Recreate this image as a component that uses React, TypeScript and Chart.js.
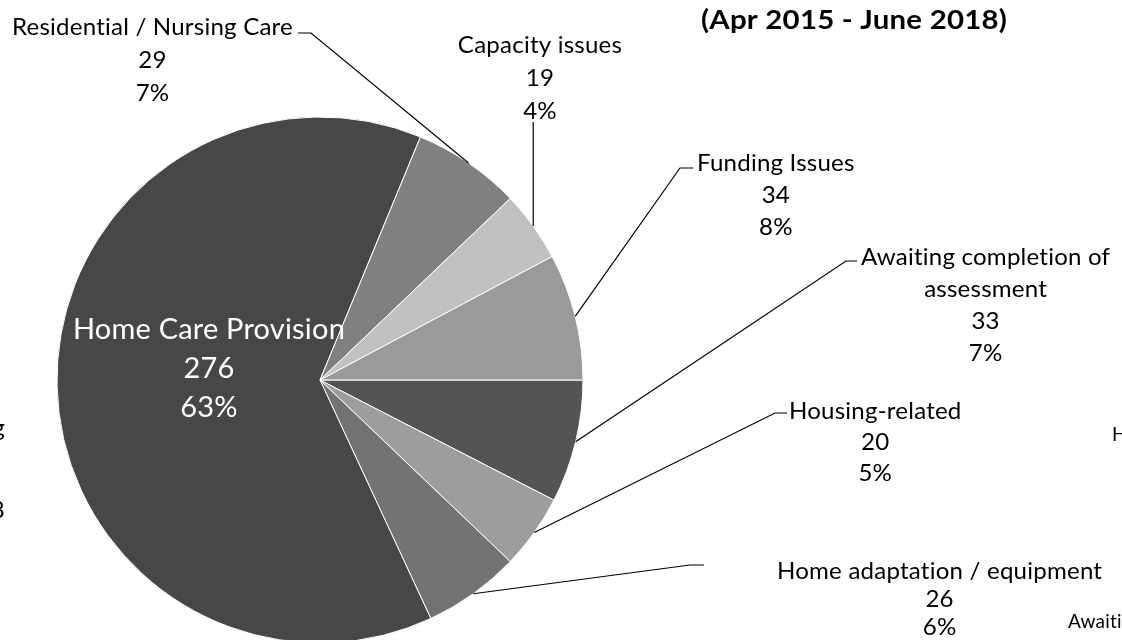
import React, { useEffect, useRef } from 'react';
import { Chart, registerables } from 'chart.js';

Chart.register(...registerables);

// ---- data ----
const categories = [
  'Awaiting completion of assessment',
  'Housing-related',
  'Home adaptation / equipment',
  'Home Care Provision',
  'Residential / Nursing Care',
  'Capacity issues',
  'Funding Issues',
];
const counts = [33, 20, 26, 276, 29, 19, 34];
const percentLabels = ['7%', '5%', '6%', '63%', '7%', '4%', '8%'];
const titleText = '(Apr 2015 - June 2018)';
// fragments of neighbouring charts cut off by the picture's edges
const clippedTexts = ['g', '8', 'Housing-related', 'Awaiting completion of'];

// ---- styles / layout ----
const sliceColors = ['#545454', '#9d9d9d', '#737373', '#474747', '#808080', '#c0c0c0', '#9a9a9a'];
const FONT = 'Lato, "Open Sans", sans-serif';
const LABEL_PX = 24;
const INSIDE_PX = 28;
const TITLE_PX = 26;

type Pt = [number | null, number];
interface LabelLayout {
  align: 'left' | 'right' | 'center';
  x: number;
  y: number; // first baseline
  gap: number;
  wrap: number;
  inside?: boolean;
  leader: Pt[] | null; // points after the slice edge; null x = same x as edge
}
const labelLayout: LabelLayout[] = [
  { align: 'left', x: 861, y: 265, gap: 32, wrap: 300, leader: [[846, 261], [857, 261]] },
  { align: 'left', x: 789, y: 419, gap: 31, wrap: 999, leader: [[775, 413], [787, 413]] },
  { align: 'left', x: 777, y: 579, gap: 28, wrap: 999, leader: [[690, 565], [704, 565]] },
  { align: 'center', x: 209, y: 339, gap: 39, wrap: 999, inside: true, leader: null },
  { align: 'right', x: 293, y: 35, gap: 33, wrap: 999, leader: [[311, 33], [298, 33]] },
  { align: 'center', x: 540, y: 53, gap: 33, wrap: 999, leader: [[null, 122]] },
  { align: 'left', x: 697, y: 171, gap: 32, wrap: 999, leader: [[680, 168], [693, 168]] },
];
const clippedLayout = [
  { x: 5, y: 436, align: 'right' },
  { x: 5, y: 518, align: 'right' },
  { x: 1112, y: 441, align: 'left' },
  { x: 1068, y: 628, align: 'left' },
];

function scaleFor(ctx: CanvasRenderingContext2D, font: string, text: string, target: number) {
  ctx.font = font;
  return target / ctx.measureText(text).width;
}

function wrapText(ctx: CanvasRenderingContext2D, text: string, maxW: number, sx: number) {
  const words = text.split(' ');
  const lines: string[] = [];
  let cur = '';
  for (const w of words) {
    const t = cur ? cur + ' ' + w : w;
    if (cur && ctx.measureText(t).width * sx > maxW) {
      lines.push(cur);
      cur = w;
    } else cur = t;
  }
  if (cur) lines.push(cur);
  return lines;
}

function drawText(ctx: CanvasRenderingContext2D, s: string, x: number, y: number, sx: number, align: CanvasTextAlign) {
  ctx.save();
  ctx.translate(x, y);
  ctx.scale(sx, 1);
  ctx.textAlign = align;
  ctx.fillText(s, 0, 0);
  ctx.restore();
}

const labelPlugin = {
  id: 'calloutLabels',
  afterDraw(chart: any) {
    const ctx: CanvasRenderingContext2D = chart.ctx;
    const meta = chart.getDatasetMeta(0);
    ctx.save();
    (ctx as any).letterSpacing = '0.2px';
    ctx.textBaseline = 'alphabetic';
    const labelFont = `${LABEL_PX}px ${FONT}`;
    const insideFont = `${INSIDE_PX}px ${FONT}`;
    const titleFont = `bold ${TITLE_PX}px ${FONT}`;
    const labelSx = scaleFor(ctx, labelFont, categories[4], 281);
    const insideSx = scaleFor(ctx, insideFont, categories[3], 272);
    const titleSx = scaleFor(ctx, titleFont, titleText, 306);

    meta.data.forEach((arc: any, i: number) => {
      const L = labelLayout[i];
      const p = arc.getProps(['x', 'y', 'startAngle', 'endAngle', 'outerRadius'], true);
      const mid = (p.startAngle + p.endAngle) / 2;
      const ex = p.x + Math.cos(mid) * p.outerRadius;
      const ey = p.y + Math.sin(mid) * p.outerRadius;

      if (L.leader) {
        ctx.beginPath();
        ctx.moveTo(ex, ey);
        L.leader.forEach(([lx, ly]) => ctx.lineTo(lx === null ? ex : lx, ly));
        ctx.strokeStyle = '#000';
        ctx.lineWidth = 1.2;
        ctx.stroke();
      }

      const sx = L.inside ? insideSx : labelSx;
      ctx.font = L.inside ? insideFont : labelFont;
      ctx.fillStyle = L.inside ? '#ffffff' : '#000000';
      const lines = [...wrapText(ctx, categories[i], L.wrap, sx), String(counts[i]), percentLabels[i]];
      const boxW = Math.max(...lines.map((s) => ctx.measureText(s).width)) * sx;
      const cx = L.align === 'left' ? L.x + boxW / 2 : L.align === 'right' ? L.x - boxW / 2 : L.x;
      lines.forEach((s, k) => drawText(ctx, s, cx, L.y + k * L.gap, sx, 'center'));
    });

    // title
    ctx.font = titleFont;
    ctx.fillStyle = '#000';
    drawText(ctx, titleText, 1007, 29, titleSx, 'right');

    // clipped fragments of neighbouring charts
    clippedTexts.forEach((t, k) => {
      const c = clippedLayout[k];
      ctx.font = k < 2 ? labelFont : `${Math.round(LABEL_PX * 0.8)}px ${FONT}`;
      drawText(ctx, t, c.x, c.y, labelSx, c.align as CanvasTextAlign);
    });
    ctx.restore();
  },
};

export default function App() {
  const ref = useRef<HTMLCanvasElement>(null);
  useEffect(() => {
    document.body.style.margin = '0';
    document.body.style.overflow = 'hidden';
    const chart = new Chart(ref.current!, {
      type: 'pie',
      data: {
        labels: categories,
        datasets: [
          {
            data: counts,
            backgroundColor: sliceColors,
            borderColor: '#ffffff',
            borderWidth: 1,
          },
        ],
      },
      options: {
        responsive: false,
        animation: false,
        rotation: 90,
        radius: 263,
        layout: { padding: { left: 57, top: 117, right: 539, bottom: 57 } },
        plugins: { legend: { display: false }, tooltip: { enabled: false }, title: { display: false } },
      },
      plugins: [labelPlugin],
    });
    return () => chart.destroy();
  }, []);
  return (
    <div style={{ position: 'fixed', left: 0, top: 0, width: 1122, height: 640, overflow: 'hidden', background: '#fff' }}>
      <canvas ref={ref} width={1122} height={700} style={{ display: 'block', width: 1122, height: 700 }} />
    </div>
  );
}
